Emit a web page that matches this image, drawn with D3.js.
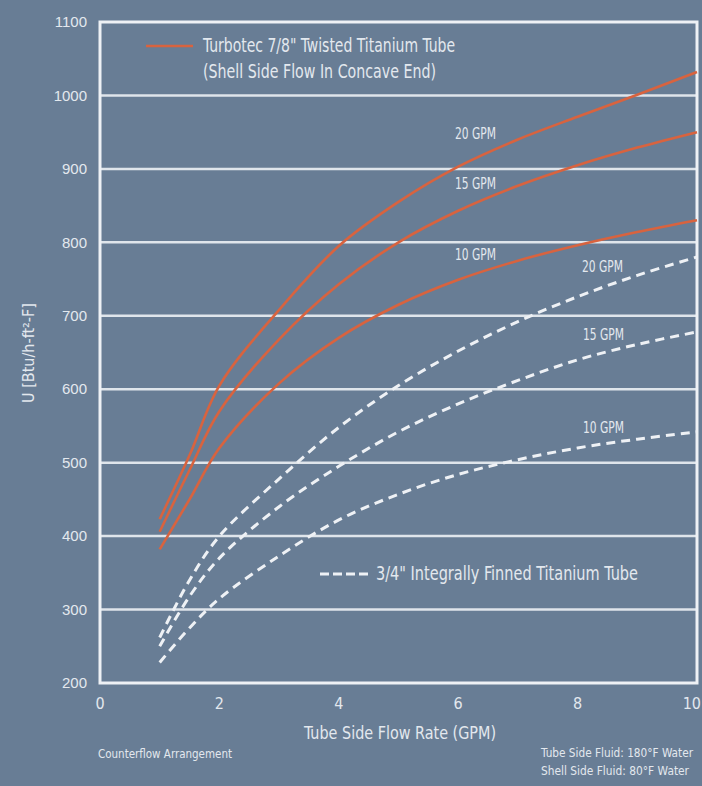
<!DOCTYPE html>
<html>
<head>
<meta charset="utf-8">
<script src="https://cdn.jsdelivr.net/npm/d3@7"></script>
<style>
  html, body { margin: 0; padding: 0; background: #687d95; }
  svg { display: block; }
  text { font-family: "DejaVu Sans Condensed", "Liberation Sans Narrow", "DejaVu Sans", sans-serif; fill: #e3e8ee; }
</style>
</head>
<body>
<svg id="chart" width="702" height="786"></svg>
<script>
// flow rates (GPM)
const flowRates = [1, 1.5, 2, 3, 4, 5, 6, 7, 8, 9, 10];

// Turbotec 7/8" twisted titanium tube (red, solid)
const turbotec20 = [423, 510, 605, 708, 795, 855, 903, 940, 971, 1001, 1032];
const turbotec15 = [406, 490, 570, 668, 743, 800, 843, 877, 905, 929, 950];
const turbotec10 = [382, 450, 520, 608, 670, 715, 749, 775, 796, 814, 830];

// 3/4" integrally finned titanium tube (white, dashed)
const finned20 = [262, 340, 400, 478, 548, 605, 652, 692, 726, 755, 780];
const finned15 = [250, 318, 370, 440, 495, 542, 580, 612, 640, 661, 678];
const finned10 = [228, 275, 315, 373, 422, 457, 484, 504, 520, 532, 542];

const xTicks = [0, 2, 4, 6, 8, 10];
const yTicks = [200, 300, 400, 500, 600, 700, 800, 900, 1000, 1100];

const svg = d3.select("#chart");
const plotLeft = 100, plotRight = 697, plotTop = 22, plotBottom = 683;

const x = d3.scaleLinear().domain([0, 10]).range([plotLeft, plotRight]);
const y = d3.scaleLinear().domain([200, 1100]).range([plotBottom, plotTop]);

const g = svg.append("g");

// horizontal grid lines
g.selectAll("line.grid")
    .data(yTicks.filter(d => d > 200 && d < 1100))
    .enter()
    .append("line")
    .attr("class", "grid")
    .attr("x1", plotLeft).attr("x2", plotRight)
    .attr("y1", d => y(d)).attr("y2", d => y(d))
    .attr("stroke", "#dfe5eb")
    .attr("stroke-width", 2.5);

// plot frame
g.append("rect")
    .attr("x", plotLeft).attr("y", plotTop)
    .attr("width", plotRight - plotLeft).attr("height", plotBottom - plotTop)
    .attr("fill", "none")
    .attr("stroke", "#eef1f5")
    .attr("stroke-width", 3);

// y tick labels
g.selectAll("text.ytick")
    .data(yTicks)
    .enter()
    .append("text")
    .attr("class", "ytick")
    .attr("x", 87)
    .attr("y", d => y(d))
    .attr("dy", "0.35em")
    .attr("text-anchor", "end")
    .style("font-family", "'Liberation Sans', sans-serif")
    .style("font-size", "15px")
    .attr("fill", "#dfe4ea")
    .text(d => d);

// x tick labels (last one pushed in so it stays inside the page)
g.selectAll("text.xtick")
    .data(xTicks)
    .enter()
    .append("text")
    .attr("class", "xtick")
    .attr("x", d => d === 10 ? 701 : x(d))
    .attr("y", 709)
    .attr("text-anchor", d => d === 10 ? "end" : "middle")
    .style("font-size", "16px")
    .text(d => d);

// axis titles
g.append("text")
    .attr("x", 400).attr("y", 739)
    .attr("text-anchor", "middle")
    .attr("textLength", 192).attr("lengthAdjust", "spacingAndGlyphs")
    .style("font-size", "18px")
    .text("Tube Side Flow Rate (GPM)");

g.append("text")
    .attr("transform", "translate(34,353) rotate(-90)")
    .attr("text-anchor", "middle")
    .attr("textLength", 100).attr("lengthAdjust", "spacingAndGlyphs")
    .style("font-size", "16px")
    .text("U [Btu/h-ft²-F]");

// curves
const line = d3.line()
    .x((d, i) => x(flowRates[i]))
    .y(d => y(d))
    .curve(d3.curveCatmullRom.alpha(0.5));

const redSeries = [turbotec20, turbotec15, turbotec10];
const whiteSeries = [finned20, finned15, finned10];

g.selectAll("path.turbotec")
    .data(redSeries)
    .enter()
    .append("path")
    .attr("class", "turbotec")
    .attr("d", line)
    .attr("fill", "none")
    .attr("stroke", "#d8633f")
    .attr("stroke-width", 2.6);

g.selectAll("path.finned")
    .data(whiteSeries)
    .enter()
    .append("path")
    .attr("class", "finned")
    .attr("d", line)
    .attr("fill", "none")
    .attr("stroke", "#eef1f5")
    .attr("stroke-width", 3)
    .attr("stroke-dasharray", "9,6");

// curve labels
const curveLabels = [
    { text: "20 GPM", x: 455, y: 139 },
    { text: "15 GPM", x: 455, y: 189 },
    { text: "10 GPM", x: 455, y: 260 },
    { text: "20 GPM", x: 582, y: 272 },
    { text: "15 GPM", x: 583, y: 340 },
    { text: "10 GPM", x: 583, y: 433 }
];
g.selectAll("text.clabel")
    .data(curveLabels)
    .enter()
    .append("text")
    .attr("class", "clabel")
    .attr("x", d => d.x)
    .attr("y", d => d.y)
    .attr("textLength", 41).attr("lengthAdjust", "spacingAndGlyphs")
    .style("font-size", "15px")
    .text(d => d.text);

// legend: turbotec
g.append("line")
    .attr("x1", 146).attr("x2", 193)
    .attr("y1", 46).attr("y2", 46)
    .attr("stroke", "#d8633f")
    .attr("stroke-width", 2.6);
g.append("text")
    .attr("x", 203).attr("y", 52)
    .attr("textLength", 252).attr("lengthAdjust", "spacingAndGlyphs")
    .style("font-size", "19px")
    .text("Turbotec 7/8\" Twisted Titanium Tube");
g.append("text")
    .attr("x", 203).attr("y", 78)
    .attr("textLength", 233).attr("lengthAdjust", "spacingAndGlyphs")
    .style("font-size", "19px")
    .text("(Shell Side Flow In Concave End)");

// legend: finned
g.append("line")
    .attr("x1", 320).attr("x2", 368)
    .attr("y1", 574).attr("y2", 574)
    .attr("stroke", "#eef1f5")
    .attr("stroke-width", 3)
    .attr("stroke-dasharray", "9,4");
g.append("text")
    .attr("x", 376).attr("y", 580)
    .attr("textLength", 262).attr("lengthAdjust", "spacingAndGlyphs")
    .style("font-size", "19px")
    .text("3/4\" Integrally Finned Titanium Tube");

// notes
g.append("text")
    .attr("x", 98).attr("y", 758)
    .attr("textLength", 134).attr("lengthAdjust", "spacingAndGlyphs")
    .style("font-size", "12px")
    .text("Counterflow Arrangement");
g.append("text")
    .attr("x", 541).attr("y", 757)
    .attr("textLength", 152).attr("lengthAdjust", "spacingAndGlyphs")
    .style("font-size", "12px")
    .text("Tube Side Fluid: 180°F Water");
g.append("text")
    .attr("x", 541).attr("y", 775)
    .attr("textLength", 148).attr("lengthAdjust", "spacingAndGlyphs")
    .style("font-size", "12px")
    .text("Shell Side Fluid: 80°F Water");
</script>
</body>
</html>
